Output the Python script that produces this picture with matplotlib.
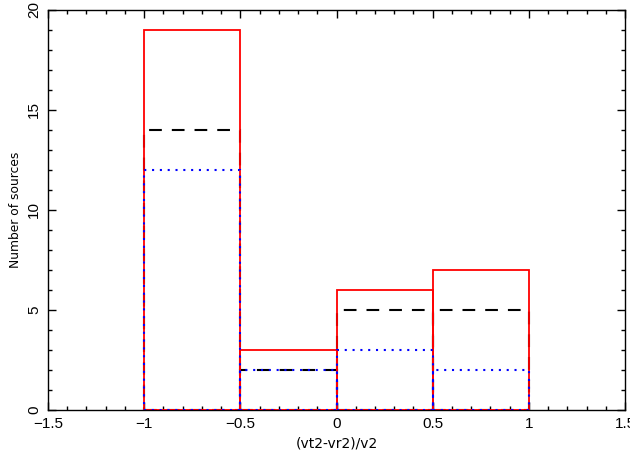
import matplotlib
matplotlib.use("Agg")
import matplotlib.pyplot as plt
from matplotlib.ticker import MultipleLocator
import numpy as np

bin_edges = [-1.0, -0.5, 0.0, 0.5, 1.0]
red_counts = [19, 3, 6, 7]
black_counts = [14, 2, 5, 5]
blue_counts = [12, 2, 3, 2]

plt.rcParams['font.family'] = ['Liberation Sans', 'DejaVu Sans']
fig = plt.figure(figsize=(6.3, 4.59), dpi=100)
ax = fig.add_axes([48/630, 49/459, 577/630, 400/459])

left = np.array(bin_edges[:-1])
width = np.diff(bin_edges)

ax.bar(left, black_counts, width=width, align='edge', fill=False,
       edgecolor='black', linewidth=1.5, linestyle=(0, (6.1, 4.8)), zorder=2)
ax.bar(left, red_counts, width=width, align='edge', fill=False,
       edgecolor='red', linewidth=1.3, zorder=3)
ax.bar(left, blue_counts, width=width, align='edge', fill=False,
       edgecolor='blue', linewidth=1.5, linestyle=(0, (1, 2.75)), zorder=4)

ax.set_xlim(-1.5, 1.5)
ax.set_ylim(0, 20)
ax.xaxis.set_minor_locator(MultipleLocator(0.1))
ax.yaxis.set_minor_locator(MultipleLocator(1))
ax.set_xticks([-1.5, -1, -0.5, 0, 0.5, 1, 1.5])
ax.set_xticklabels(['\u22121.5', '\u22121', '\u22120.5', '0', '0.5', '1', '1.5'])
ax.set_yticks([0, 5, 10, 15, 20])
ax.set_yticklabels(['0', '5', '10', '15', '20'], rotation=90, va='center')
ax.tick_params(which='both', direction='in', top=True, right=True, labelsize=11)
ax.tick_params(which='major', length=6, width=1, pad=5)
ax.tick_params(which='minor', length=3, width=1)
for s in ax.spines.values():
    s.set_linewidth(1.0)

ax.set_xlabel('(vt2-vr2)/v2', fontsize=10, labelpad=4, family='DejaVu Sans')
ax.set_ylabel('Number of sources', fontsize=8.8, labelpad=4, family='DejaVu Sans')

fig.savefig('out.png', dpi=100)
